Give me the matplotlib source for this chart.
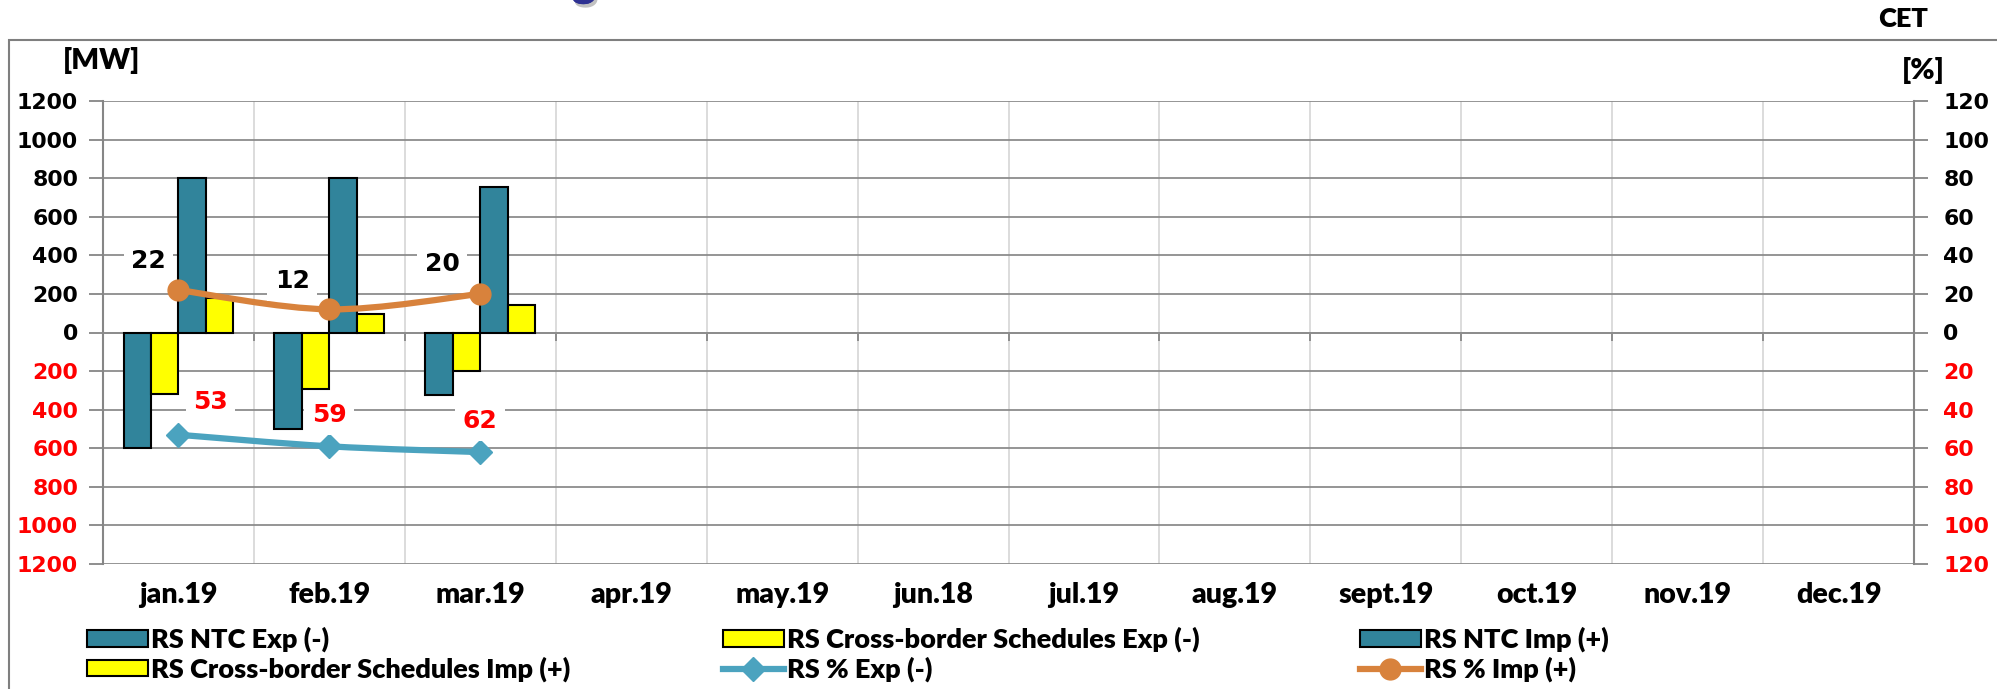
import numpy as np
import matplotlib
matplotlib.use("Agg")
import matplotlib.pyplot as plt
import matplotlib.patheffects as pe
from matplotlib.patches import Patch, Rectangle, PathPatch
from matplotlib.lines import Line2D
from matplotlib.path import Path

months = ["jan.19", "feb.19", "mar.19", "apr.19", "may.19", "jun.18",
          "jul.19", "aug.19", "sept.19", "oct.19", "nov.19", "dec.19"]

# MW values, exports negative
ntc_exp = [-600, -500, -325]
cbs_exp = [-320, -295, -200]
ntc_imp = [800, 800, 755]
cbs_imp = [180, 95, 145]

# usage in %
pct_exp = [53, 59, 62]
pct_imp = [22, 12, 20]

mw_ticks = list(range(-1200, 1201, 200))
pct_ticks = list(range(-120, 121, 20))

# label offsets in pixels
imp_offsets = [(-30, 29), (-37, 28), (-38, 30)]
exp_offsets = [(32, 33), (0, 31), (0, 31)]

TEAL = "#31849B"
YELLOW = "#FFFF00"
LINE_TEAL = "#4BA3BF"
ORANGE = "#D8823C"
GRID = "#8C8C8C"
CAL = "Lato"
NUM = "DejaVu Sans"
CAL_W = "heavy"

W, H = 1997, 689
fig = plt.figure(figsize=(W / 100, H / 100), dpi=100)
ax = fig.add_axes([103 / W, 1 - 564 / H, (1914 - 103) / W, (564 - 101) / H])

# outer frame
fig.patches.append(Rectangle((9 / W, -0.2), 1.2, 1.2 - 40 / H, transform=fig.transFigure,
                             fill=False, edgecolor="#7F7F7F", lw=1.5))

x = np.arange(len(ntc_exp))
w = 0.182
kw = dict(width=w, edgecolor="black", linewidth=1.5, zorder=3)
ax.bar(x - 1.5 * w, ntc_exp, color=TEAL, **kw)
ax.bar(x - 0.5 * w, cbs_exp, color=YELLOW, **kw)
ax.bar(x + 0.5 * w, ntc_imp, color=TEAL, **kw)
ax.bar(x + 1.5 * w, cbs_imp, color=YELLOW, **kw)

ax.set_xlim(-0.5, len(months) - 0.5)
ax.set_ylim(-1200, 1200)
ax.set_yticks(mw_ticks, labels=[str(abs(t)) for t in mw_ticks])
for lbl, t in zip(ax.get_yticklabels(), mw_ticks):
    lbl.set_color("red" if t < 0 else "black")
    lbl.set_fontfamily(NUM)
    lbl.set_fontweight("bold")
    lbl.set_fontsize(15.8)
ax.tick_params(axis="y", length=10, width=1.3, color="#868686", pad=8)

ax.set_xticks(np.arange(-0.5, len(months), 1))
ax.set_xticklabels([])
ax.tick_params(axis="x", length=6, width=1.3, color="#868686", direction="out")
ax.xaxis.grid(True, color="#D9D9D9", lw=1.3)
ax.yaxis.grid(True, color=GRID, lw=1.3)
ax.set_axisbelow(True)
ax.spines["bottom"].set_position(("data", 0))
ax.spines["bottom"].set_color(GRID)
ax.spines["bottom"].set_linewidth(1.3)
ax.spines["left"].set_color("#868686")
ax.spines["left"].set_linewidth(1.5)
ax.spines["top"].set_visible(False)
ax.spines["right"].set_visible(False)

for i, m in enumerate(months):
    ax.text(i, -0.066, m, transform=ax.get_xaxis_transform(), ha="center", va="center",
            fontsize=20.5, fontweight=CAL_W, family=CAL)

# percentage axis
ax2 = ax.twinx()
ax2.set_ylim(-120, 120)
ax2.set_yticks(pct_ticks, labels=[str(abs(t)) for t in pct_ticks])
for lbl, t in zip(ax2.get_yticklabels(), pct_ticks):
    lbl.set_color("red" if t < 0 else "black")
    lbl.set_fontfamily(NUM)
    lbl.set_fontweight("bold")
    lbl.set_fontsize(15.8)
ax2.tick_params(axis="y", length=10, width=1.3, color="#868686", pad=11)
for s in ["top", "left", "bottom"]:
    ax2.spines[s].set_visible(False)
ax2.spines["right"].set_color("#868686")
ax2.spines["right"].set_linewidth(1.5)


def smooth_path(xs, ys):
    pts = np.column_stack([xs, ys]).astype(float)
    n = len(pts)
    verts = [pts[0]]
    codes = [Path.MOVETO]
    for i in range(n - 1):
        p0, p1 = pts[max(i - 1, 0)], pts[i]
        p2, p3 = pts[i + 1], pts[min(i + 2, n - 1)]
        verts += [p1 + (p2 - p0) / 6, p2 - (p3 - p1) / 6, p2]
        codes += [Path.CURVE4] * 3
    return Path(verts, codes)


exp_y = -np.array(pct_exp)
imp_y = np.array(pct_imp)
ax2.add_patch(PathPatch(smooth_path(x, exp_y), fill=False, edgecolor=LINE_TEAL,
                        lw=4.5, capstyle="round", zorder=4))
ax2.add_patch(PathPatch(smooth_path(x, imp_y), fill=False, edgecolor=ORANGE,
                        lw=4.5, capstyle="round", zorder=4))
ax2.plot(x, exp_y, linestyle="none", marker="D", ms=12, color=LINE_TEAL, zorder=5)
ax2.plot(x, imp_y, linestyle="none", marker="o", ms=15, color=ORANGE, zorder=5)

box = dict(boxstyle="square,pad=0.3", fc="white", ec="none")
for i, v in enumerate(pct_imp):
    ax2.annotate(str(v), xy=(i, v), xytext=imp_offsets[i], textcoords="offset pixels",
                 ha="center", va="center", fontsize=18, fontweight="bold", family=NUM,
                 color="black", bbox=box, zorder=6)
for i, v in enumerate(pct_exp):
    ax2.annotate(str(v), xy=(i, -v), xytext=exp_offsets[i], textcoords="offset pixels",
                 ha="center", va="center", fontsize=18, fontweight="bold", family=NUM,
                 color="red", bbox=box, zorder=6)

# captions
fig.text(102 / W, 1 - 60 / H, "[MW]", ha="center", va="center", fontsize=21,
         fontweight=CAL_W, family=CAL)
fig.text(1923 / W, 1 - 71 / H, "[%]", ha="center", va="center", fontsize=21,
         fontweight=CAL_W, family=CAL)
fig.text(1903 / W, 1 - 19 / H, "CET", ha="center", va="center", fontsize=19.5,
         fontweight=CAL_W, family=CAL)
fig.text(1010 / W, 1 + 4 / H, "Usage Level of NTC on Romanian - Serbian border", ha="center",
         va="baseline", fontsize=33, fontweight=CAL_W, family=CAL, color="#2E3192",
         path_effects=[pe.withSimplePatchShadow(offset=(1.5, -2.5), shadow_rgbFace="#999999",
                                                 alpha=0.6), pe.Normal()])

# legend, three columns of two rows
h_ntc_exp = Patch(facecolor=TEAL, edgecolor="black", lw=1.5, label="RS NTC Exp (-)")
h_cbs_exp = Patch(facecolor=YELLOW, edgecolor="black", lw=1.5,
                  label="RS Cross-border Schedules Exp (-)")
h_ntc_imp = Patch(facecolor=TEAL, edgecolor="black", lw=1.5, label="RS NTC Imp (+)")
h_cbs_imp = Patch(facecolor=YELLOW, edgecolor="black", lw=1.5,
                  label="RS Cross-border Schedules Imp (+)")
h_pct_exp = Line2D([], [], color=LINE_TEAL, lw=4.5, marker="D", ms=12, label="RS % Exp (-)")
h_pct_imp = Line2D([], [], color=ORANGE, lw=4.5, marker="o", ms=15, label="RS % Imp (+)")

for col, (hs, x0) in enumerate([([h_ntc_exp, h_cbs_imp], 87),
                                ([h_cbs_exp, h_pct_exp], 723),
                                ([h_ntc_imp, h_pct_imp], 1360)]):
    leg = fig.legend(handles=hs, loc="upper left", bbox_to_anchor=(x0 / W, 1 - 627 / H),
                     frameon=False, borderpad=0, borderaxespad=0, handlelength=2.25,
                     handleheight=0.55, handletextpad=0.12, labelspacing=0.15,
                     prop=dict(family=CAL, weight=CAL_W, size=19.5))

fig.savefig("out.png", dpi=100)
